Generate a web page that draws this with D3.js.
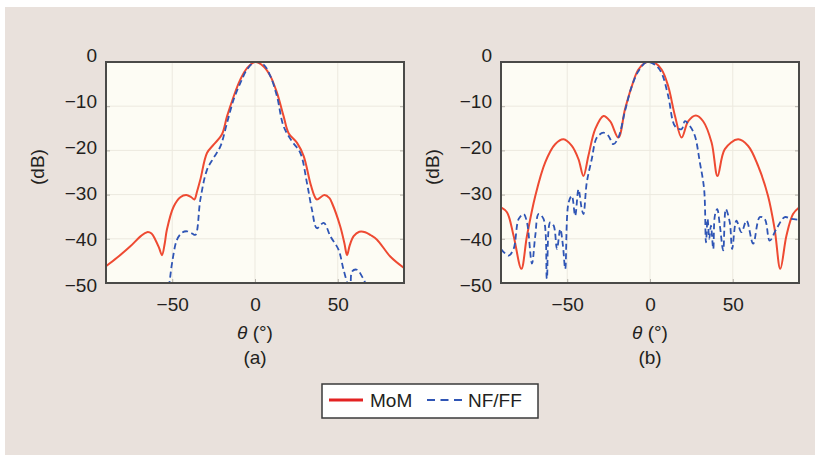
<!DOCTYPE html>
<html>
<head>
<meta charset="utf-8">
<script src="https://cdn.jsdelivr.net/npm/d3@7"></script>
<style>
  html, body { margin: 0; padding: 0; background: #ffffff; }
  svg { display: block; }
  text { font-family: "Liberation Sans", Arial, Helvetica, sans-serif; fill: #231f20; }
</style>
</head>
<body>
<script>
// Radiation patterns: angle (deg) vs normalized level (dB)
const thetaTicks = [-50, 0, 50];
const dbTicks = [0, -10, -20, -30, -40, -50];

// (a) MoM
const momA_theta = [-90, -83.4, -75.3, -69, -65.2, -62.5, -60.2, -58, -56.2, -54.5, -53.2, -49.1, -45.1, -41.5, -38.5, -36.6, -35, -33, -29, -25, -20, -16.9, -12.9, -8.9, -4.8, 0, 5.2, 9.3, 13.3, 17.3, 20.3, 25.4, 29.4, 33.4, 36, 37.4, 41.9, 45, 46.5, 51.5, 54, 55.6, 57.2, 59.6, 63, 66.6, 70, 73.7, 81.7, 90];
const momA_db    = [-46.2, -44.3, -41.7, -39.4, -38.5, -38.8, -40.2, -42.0, -43.7, -41.0, -37.9, -32.7, -30.6, -30.1, -30.6, -31.1, -29.3, -26.6, -20.6, -18.7, -16.4, -12.3, -7.8, -4.0, -1.4, 0, -1.0, -3.2, -7.0, -12.3, -16.1, -18.3, -21.3, -27.4, -30.4, -31.1, -30.1, -30.8, -31.9, -37.2, -41.0, -43.7, -41.5, -39.4, -38.4, -38.5, -39.2, -40.2, -44.0, -46.6];

// (a) NF/FF
const nfA_theta = [-53, -51.7, -50.1, -47.1, -44, -41.1, -38, -36, -33, -29, -25, -20.9, -16.9, -12.9, -8.9, -4.8, 0, 5.2, 9.3, 13.3, 17.3, 22.3, 27.4, 31.4, 34.4, 37.4, 41.5, 45.5, 50.5, 53.5, 56.6, 57.6, 58.6, 61.6, 64.6, 66.6, 68];
const nfA_db    = [-53, -50, -45.5, -40.2, -38.6, -38.3, -38.8, -39.1, -31.1, -24.4, -21.7, -19.1, -13.8, -8.5, -4.8, -1.7, 0, -0.6, -3.2, -7.8, -14.6, -17.9, -20.6, -27.4, -33.4, -37.6, -36.4, -39.4, -42.5, -47.0, -50.5, -50, -47.4, -47.0, -48.5, -50, -52];

// (b) MoM
const momB_theta = [-90, -86.4, -82.4, -77.7, -74.3, -69.3, -63.3, -57.3, -52.2, -47.2, -43.2, -40.2, -37.2, -33.1, -28.1, -24.1, -19.1, -15.1, -11, -7, -2, 2, 7, 11, 15.1, 19.1, 23.1, 27.7, 32.1, 37.2, 40.8, 45.2, 53.2, 59.3, 65.3, 71.3, 75.3, 78.7, 82.4, 86.4, 90];
const momB_db    = [-32.9, -34, -39.3, -46.8, -39.3, -30.3, -22.7, -18.6, -17.5, -19, -22, -25.8, -21.2, -15.2, -12.2, -13.4, -17.1, -10.7, -5.5, -1.7, 0, 0, -1.7, -5.5, -12.2, -17.1, -13.4, -12.1, -13.4, -18.2, -25.8, -19.7, -17.5, -19, -23.5, -30.3, -37.8, -46.8, -39.3, -34.4, -32.9];

// (b) NF/FF
const nfB_theta = [-90, -85.4, -82.4, -79.3, -76.3, -74.3, -71.3, -69.3, -67.3, -64.3, -62.3, -60.3, -58.2, -56.2, -54.2, -52.6, -51.2, -49.2, -47.2, -45.2, -43.2, -41.2, -40.2, -38.2, -35.2, -32.1, -28.1, -25.1, -22.1, -19.1, -15.1, -11, -7, -2, 3, 7, 11, 15.1, 19.1, 21.1, 24.1, 27.1, 30.1, 32.7, 33.8, 34.8, 35.8, 36.8, 38.2, 39.2, 40.6, 42.2, 44.2, 45.8, 48.2, 49.6, 52.2, 55.2, 58.3, 62.3, 66.3, 69.3, 72.3, 76.3, 81.4, 85.4, 90];
const nfB_db    = [-42.3, -43.8, -42.3, -35.5, -34.4, -36.3, -45.6, -39.3, -34.4, -35.5, -49, -36.3, -37, -42.3, -37.8, -41.5, -46.8, -31.8, -30.3, -34.8, -28.8, -33.3, -34.4, -27.3, -22, -17.1, -16, -16.7, -18.6, -17.1, -11.1, -5.5, -2.1, 0, -0.6, -2.5, -7.7, -14.5, -15.2, -13.4, -14.5, -16.7, -22.7, -28.8, -40.8, -35.5, -40, -37, -42.3, -34.7, -33.3, -37, -42.6, -33.3, -36.3, -42.3, -35.9, -38.5, -35.9, -41.1, -35.1, -35.5, -40.4, -37.8, -35.1, -35.5, -35.7];

const W = 815, H = 455;
const svg = d3.select("body").append("svg").attr("width", W).attr("height", H);

svg.append("rect").attr("x", 5).attr("y", 7).attr("width", W - 5).attr("height", H - 7)
  .attr("fill", "#e9e1dc");

const plotTop = 62, plotBottom = 283;
const y = d3.scaleLinear().domain([-50, 0]).range([plotBottom, plotTop]);
// tick text sits on its own evenly spaced baseline grid
const yLabel = d3.scaleLinear().domain([-50, 0]).range([284.5, 54.5]);

const zip = (a, b) => a.map((t, i) => [t, b[i]]);

const panels = [
  { id: "a", left: 106, right: 404, labelRight: 97, dbX: 37, mom: zip(momA_theta, momA_db), nf: zip(nfA_theta, nfA_db) },
  { id: "b", left: 501, right: 799, labelRight: 492, dbX: 432, mom: zip(momB_theta, momB_db), nf: zip(nfB_theta, nfB_db) }
];

panels.forEach(p => {
  const x = d3.scaleLinear().domain([-90, 90]).range([p.left, p.right]);
  const g = svg.append("g");

  g.append("rect").attr("x", p.left).attr("y", plotTop)
    .attr("width", p.right - p.left).attr("height", plotBottom - plotTop)
    .attr("fill", "#fdfcf4");

  // grid
  g.append("g").selectAll("line").data(thetaTicks).join("line")
    .attr("x1", d => x(d)).attr("x2", d => x(d)).attr("y1", plotTop).attr("y2", plotBottom)
    .attr("stroke", "#ece9df").attr("stroke-width", 1);
  g.append("g").selectAll("line").data(dbTicks.filter(d => d > -50 && d < 0)).join("line")
    .attr("x1", p.left).attr("x2", p.right).attr("y1", d => y(d)).attr("y2", d => y(d))
    .attr("stroke", "#ece9df").attr("stroke-width", 1);

  // inner tick marks
  g.append("g").attr("transform", `translate(0,${plotBottom})`)
    .call(d3.axisBottom(x).tickValues(thetaTicks).tickSize(-4).tickFormat(""))
    .call(s => s.select(".domain").remove())
    .call(s => s.selectAll("line").attr("stroke", "#b5b2aa"));
  g.append("g").attr("transform", `translate(${p.left},0)`)
    .call(d3.axisLeft(y).tickValues(dbTicks).tickSize(-4).tickFormat(""))
    .call(s => s.select(".domain").remove())
    .call(s => s.selectAll("line").attr("stroke", "#b5b2aa"));
  g.append("g").attr("transform", `translate(${p.right},0)`)
    .call(d3.axisRight(y).tickValues(dbTicks).tickSize(-4).tickFormat(""))
    .call(s => s.select(".domain").remove())
    .call(s => s.selectAll("line").attr("stroke", "#b5b2aa"));

  // curves
  const clipId = "clip-" + p.id;
  svg.append("clipPath").attr("id", clipId).append("rect")
    .attr("x", p.left).attr("y", plotTop).attr("width", p.right - p.left).attr("height", plotBottom - plotTop);
  const line = d3.line().x(d => x(d[0])).y(d => y(d[1])).curve(d3.curveCatmullRom.alpha(0.5));
  const cg = g.append("g").attr("clip-path", `url(#${clipId})`);
  cg.append("path").datum(p.mom).attr("d", line)
    .attr("fill", "none").attr("stroke", "#ee4a32").attr("stroke-width", 2);
  cg.append("path").datum(p.nf).attr("d", line)
    .attr("fill", "none").attr("stroke", "#2f55b5").attr("stroke-width", 1.8)
    .attr("stroke-dasharray", "6,3.5");

  // frame
  g.append("rect").attr("x", p.left).attr("y", plotTop)
    .attr("width", p.right - p.left).attr("height", plotBottom - plotTop)
    .attr("fill", "none").attr("stroke", "#4a4a48").attr("stroke-width", 2);

  // tick labels
  g.append("g").attr("transform", `translate(${p.labelRight},0)`)
    .call(d3.axisLeft(yLabel).tickValues(dbTicks).tickSize(0).tickPadding(0)
      .tickFormat(d => d === 0 ? "0" : "\u2212" + Math.abs(d)))
    .call(s => s.select(".domain").remove())
    .call(s => s.selectAll("text").attr("font-size", 19).attr("fill", "#231f20")
      .attr("font-family", "Liberation Sans, Arial, sans-serif").attr("dy", "0.36em"));

  g.append("g").attr("transform", `translate(0,${plotBottom})`)
    .call(d3.axisBottom(x).tickValues(thetaTicks).tickSize(0).tickPadding(0)
      .tickFormat(d => d < 0 ? "\u2212" + Math.abs(d) : String(d)))
    .call(s => s.select(".domain").remove())
    .call(s => s.selectAll("text").attr("font-size", 19).attr("fill", "#231f20")
      .attr("font-family", "Liberation Sans, Arial, sans-serif").attr("dy", null).attr("y", 28));

  // axis titles
  const cx = x(0);
  const tl = g.append("text").attr("x", cx).attr("y", 339).attr("text-anchor", "middle").attr("font-size", 19);
  tl.append("tspan").attr("font-style", "italic").text("\u03b8");
  tl.append("tspan").text(" (\u00b0)");

  g.append("text").attr("x", cx).attr("y", 364).attr("text-anchor", "middle").attr("font-size", 19)
    .text(`(${p.id})`);

  g.append("text").attr("transform", `translate(${p.dbX + 7},167) rotate(-90)`)
    .attr("text-anchor", "middle").attr("font-size", 19).text("(dB)");
});

// legend
const lg = svg.append("g");
lg.append("rect").attr("x", 322).attr("y", 384).attr("width", 216).attr("height", 34)
  .attr("fill", "#ffffff").attr("stroke", "#3a3a3a").attr("stroke-width", 1.5);
lg.append("line").attr("x1", 329).attr("x2", 363).attr("y1", 400).attr("y2", 400)
  .attr("stroke", "#e32222").attr("stroke-width", 3);
lg.append("text").attr("x", 370).attr("y", 407).attr("font-size", 19).text("MoM");
lg.append("line").attr("x1", 427).attr("x2", 462).attr("y1", 400).attr("y2", 400)
  .attr("stroke", "#2f55b5").attr("stroke-width", 2.2).attr("stroke-dasharray", "8,5.5");
lg.append("text").attr("x", 468).attr("y", 407).attr("font-size", 19).text("NF/FF");
</script>
</body>
</html>
